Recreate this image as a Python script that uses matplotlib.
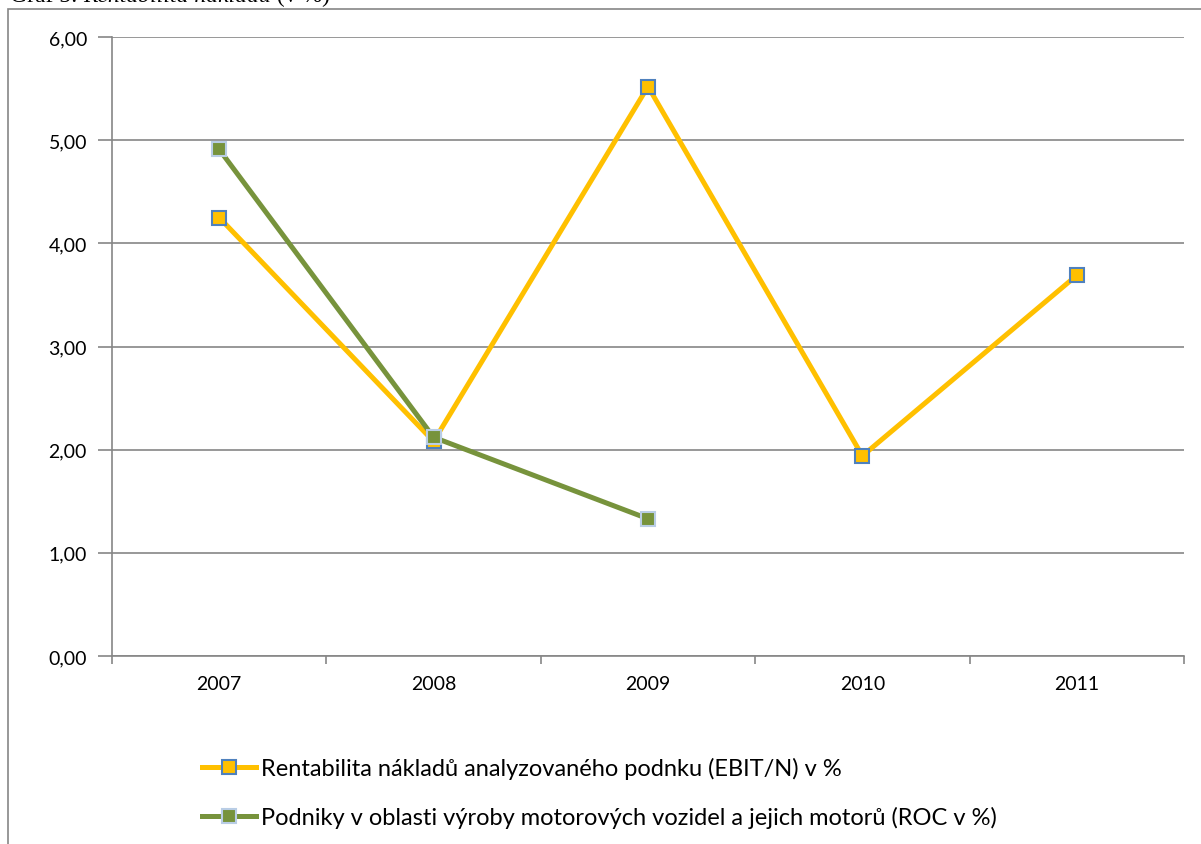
import matplotlib.pyplot as plt
from matplotlib.patches import Rectangle
from matplotlib.ticker import FixedLocator, FuncFormatter

years = ["2007", "2008", "2009", "2010", "2011"]
ebit_n = [4.25, 2.08, 5.52, 1.94, 3.69]
roc_sector = [4.91, 2.12, 1.33]

label_ebit = "Rentabilita nákladů analyzovaného podnku (EBIT/N) v %"
label_roc = "Podniky v oblasti výroby motorových vozidel a jejich motorů (ROC v %)"

plt.rcParams["font.family"] = ["Lato", "DejaVu Sans"]

fig = plt.figure(figsize=(12.01, 8.45), dpi=100)
W, H = 1201, 845

# chart frame, partly cut off on the right and bottom
fig.patches.append(Rectangle((8 / W, -0.01), 1.0, 1 - 10 / H + 0.01,
                             transform=fig.transFigure, fill=False,
                             edgecolor="#868686", linewidth=1.2))

ax = fig.add_axes([112 / W, 1 - 657 / H, (1184 - 112) / W, (657 - 38) / H])

# caption above the frame, only its lower part shows; pieces chained one after another
cap_kw = dict(family="Liberation Serif", fontsize=17, va="bottom",
              annotation_clip=False)
t1 = ax.annotate("Graf 5: ", xy=(10 / W, 1 - 7 / H), xycoords="figure fraction",
                 **cap_kw)
t2 = ax.annotate("Rentabilita nákladů", xy=(1, 0), xycoords=t1, style="italic",
                 **cap_kw)
ax.annotate(" (v %)", xy=(1, 0), xycoords=t2, **cap_kw)

x = list(range(len(years)))

ax.plot(x, ebit_n, color="#FFC000", linewidth=3.6, marker="s", markersize=10,
        markerfacecolor="#FFC000", markeredgecolor="#4F81BD",
        markeredgewidth=1.5, label=label_ebit, zorder=3)
ax.plot(x[:len(roc_sector)], roc_sector, color="#77933C", linewidth=3.6,
        marker="s", markersize=10, markerfacecolor="#77933C",
        markeredgecolor="#B9CDE5", markeredgewidth=1.5, label=label_roc,
        zorder=4)

ax.set_xlim(-0.5, len(years) - 0.5)
ax.set_ylim(0, 6)
ax.set_yticks([0, 1, 2, 3, 4, 5, 6])
ax.yaxis.set_major_formatter(FuncFormatter(lambda v, p: f"{v:.2f}".replace(".", ",")))
ax.yaxis.grid(True, color="#868686", linewidth=1.2)
ax.set_axisbelow(True)

ax.xaxis.set_major_locator(FixedLocator([i - 0.5 for i in range(len(years) + 1)]))
ax.xaxis.set_minor_locator(FixedLocator(x))
ax.set_xticklabels([])
ax.set_xticklabels(years, minor=True)
ax.tick_params(axis="x", which="major", length=6, color="#868686", width=1.2)
ax.tick_params(axis="x", which="minor", length=0, pad=14, labelsize=14)
ax.tick_params(axis="y", length=10, color="#868686", width=1.2, pad=8, labelsize=14)

for side in ("top", "right"):
    ax.spines[side].set_visible(False)
for side in ("left", "bottom"):
    ax.spines[side].set_color("#868686")
    ax.spines[side].set_linewidth(1.2)

fig.legend(loc="upper left", bbox_to_anchor=(202 / W, 1 - 758 / H),
           frameon=False, fontsize=17, handlelength=2.3, handletextpad=0.2,
           labelspacing=1.15, borderaxespad=0, borderpad=0)

fig.savefig("out.png", dpi=100)
